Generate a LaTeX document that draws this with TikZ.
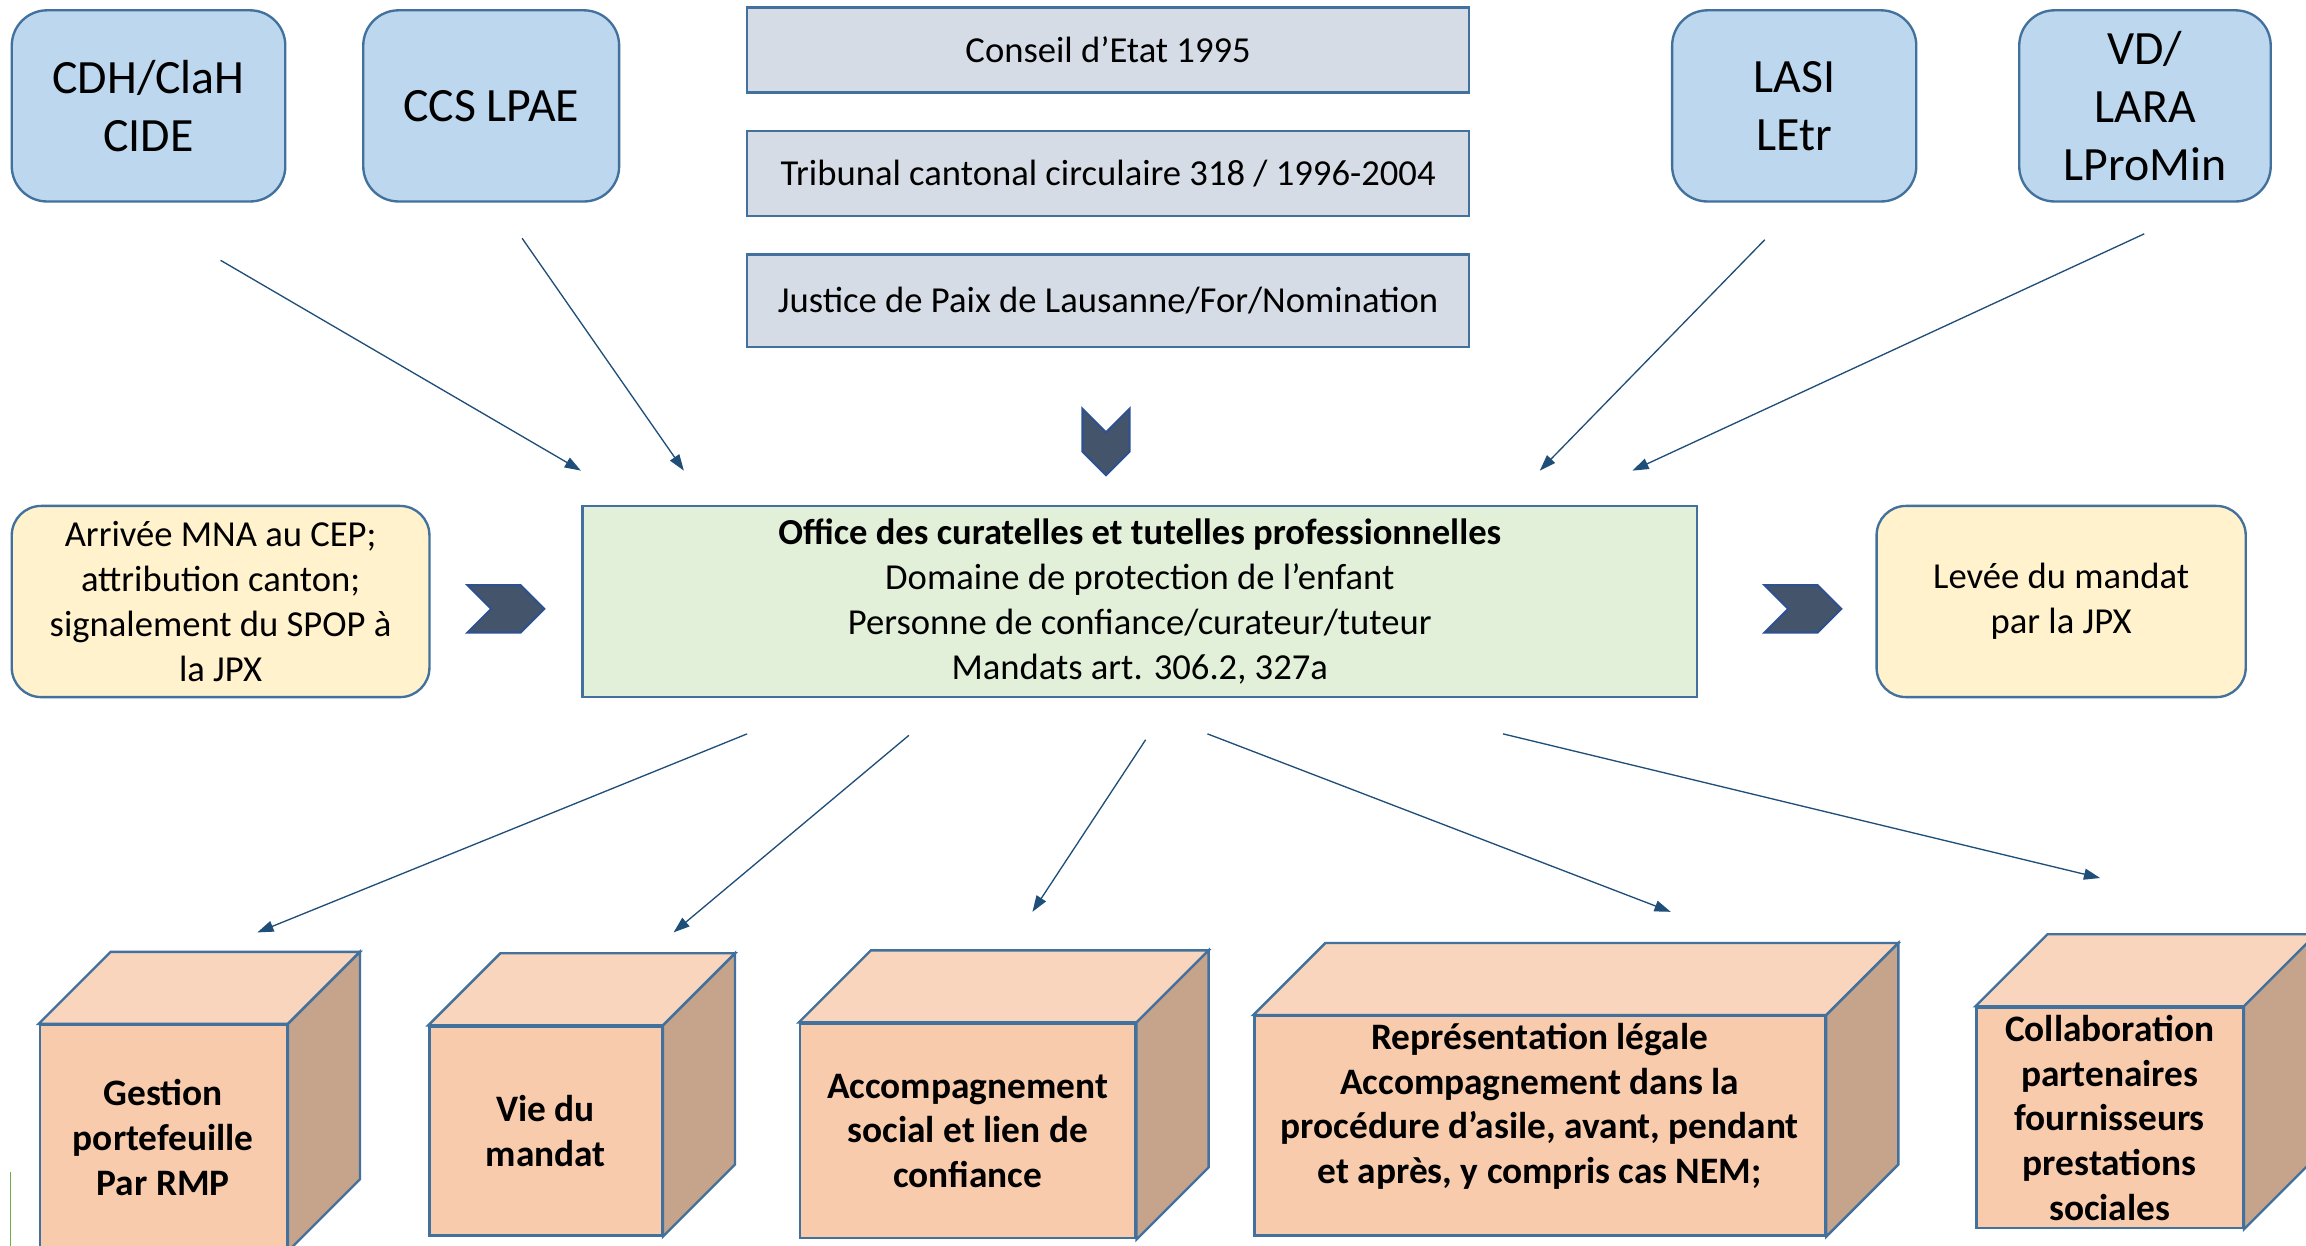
\documentclass[tikz,border=0pt]{standalone}
\usepackage{fontspec}
\setmainfont{Carlito}
\usetikzlibrary{arrows.meta,calc}
\definecolor{bord}{HTML}{41719C}
\definecolor{bluef}{HTML}{BDD7EE}
\definecolor{grayf}{HTML}{D6DCE5}
\definecolor{yelf}{HTML}{FFF2CC}
\definecolor{greenf}{HTML}{E2F0D9}
\definecolor{peach}{HTML}{F8CBAD}
\definecolor{peachtop}{HTML}{F8D5BC}
\definecolor{peachside}{HTML}{C6A38B}
\definecolor{arrowc}{HTML}{1F4E79}
\definecolor{chevf}{HTML}{44546A}
\definecolor{chevb}{HTML}{2F528F}
\definecolor{artef}{HTML}{70AD47}
\tikzset{
  base/.style={draw=bord, line width=1.6pt, inner sep=0pt, align=center,
    font=\fontsize{24.9}{30.4}\selectfont},
  bluebox/.style={base, fill=bluef, rounded corners=24pt,
    font=\fontsize{32.5}{39.3}\selectfont},
  graybox/.style={base, fill=grayf},
  yelbox/.style={base, fill=yelf, rounded corners=20pt},
  greenbox/.style={base, fill=greenf},
  cubefront/.style={base, fill=peach, font=\fontsize{25.4}{30.4}\selectfont\bfseries},
  cubetop/.style={draw=bord, line width=1.6pt, fill=peachtop, line join=miter},
  cubeside/.style={draw=bord, line width=1.6pt, fill=peachside, line join=miter},
  conn/.style={draw=arrowc, line width=0.9pt, -{Triangle[length=11pt,width=7.5pt]}},
  chev/.style={draw=chevb, line width=1.5pt, fill=chevf, line join=miter},
}
\newcommand{\mycubefaces}[1]{%
  \path[cubetop] (#1.north west) -- ++(49,-49) -- ($(#1.north east)+(49,-49)$) -- (#1.north east) -- cycle;
  \path[cubeside] (#1.north east) -- ++(49,-49) -- ($(#1.south east)+(49,-49)$) -- (#1.south east) -- cycle;
}
\begin{document}
\begin{tikzpicture}[x=1pt,y=-1pt]
\clip (0,0) rectangle (1568,846.6);
\fill[white] (0,0) rectangle (1568,846.6);

% top row
\node[bluebox, minimum width=186pt, minimum height=130pt] (cdh) at (101,72) {CDH/ClaH\\CIDE};
\node[bluebox, minimum width=174pt, minimum height=130pt] (ccs) at (334,72) {CCS LPAE};
\node[bluebox, minimum width=166pt, minimum height=130pt] (lasi) at (1220,72) {LASI\\LEtr};
\node[bluebox, minimum width=171pt, minimum height=130pt] (vd) at (1458.5,72) {VD/\\LARA\\LProMin};

\node[graybox, minimum width=491pt, minimum height=58pt] (ce) at (753.5,34) {Conseil d’Etat 1995};
\node[graybox, minimum width=491pt, minimum height=58pt] (tc) at (753.5,118) {Tribunal cantonal circulaire 318 / 1996-2004};
\node[graybox, minimum width=491pt, minimum height=63pt] (jp) at (753.5,204.5) {Justice de Paix de Lausanne/For/Nomination};

% down chevron
\path[chev] (736,278) -- (752,294) -- (768,278) -- (768,307) -- (752,323) -- (736,307) -- cycle;

% middle row
\node[yelbox, minimum width=284pt, minimum height=130pt] (arr) at (150,409) {Arrivée MNA au CEP;\\attribution canton;\\signalement du SPOP à\\la JPX};
\node[greenbox, minimum width=758pt, minimum height=130pt] (off) at (775,409) {\textbf{Office des curatelles et tutelles professionnelles}\\Domaine de protection de l’enfant\\Personne de confiance/curateur/tuteur\\Mandats art. 306.2, 327a};
\node[yelbox, minimum width=251pt, minimum height=130pt] (lev) at (1401.5,409) {Levée du mandat\\par la JPX};

\path[chev] (318,398) -- (354,398) -- (370,414) -- (354,430) -- (318,430) -- (334,414) -- cycle;
\path[chev] (1200,398) -- (1236,398) -- (1252,414) -- (1236,430) -- (1200,430) -- (1216,414) -- cycle;

% cubes
\node[cubefront, minimum width=168pt, minimum height=153pt] (c1) at (111,773.5) {Gestion\\portefeuille\\Par RMP};
\node[cubefront, minimum width=158pt, minimum height=142pt] (c2) at (371,769) {Vie du\\mandat};
\node[cubefront, minimum width=228pt, minimum height=146pt] (c3) at (658,769) {Accompagnement\\social et lien de\\confiance};
\node[cubefront, minimum width=388pt, minimum height=149pt] (c4) at (1047,765.5) {Représentation légale\\Accompagnement dans la\\procédure d’asile, avant, pendant\\et après, y compris cas NEM;\\\mbox{}};
\node[cubefront, minimum width=181pt, minimum height=150pt] (c5) at (1434.5,760) {Collaboration\\partenaires\\fournisseurs\\prestations\\sociales};
\mycubefaces{c1}
\mycubefaces{c2}
\mycubefaces{c3}
\mycubefaces{c4}
\mycubefaces{c5}

% connector end points
\coordinate (s1) at (150,177);  \coordinate (e1) at (395,320);
\coordinate (s2) at (355,162);  \coordinate (e2) at (465,320);
\coordinate (s3) at (1200,163); \coordinate (e3) at (1047,320);
\coordinate (s4) at (1458,159); \coordinate (e4) at (1110,320);
\draw[conn] (s1) -- (e1);
\draw[conn] (s2) -- (e2);
\draw[conn] (s3) -- (e3);
\draw[conn] (s4) -- (e4);

\coordinate (b1s) at (508,499);  \coordinate (b1e) at (175,634);
\coordinate (b2s) at (618,500);  \coordinate (b2e) at (458,634);
\coordinate (b3s) at (779,503);  \coordinate (b3e) at (702,620);
\coordinate (b4s) at (821,499);  \coordinate (b4e) at (1136,620);
\coordinate (b5s) at (1022,499); \coordinate (b5e) at (1428,597);
\draw[conn] (b1s) -- (b1e);
\draw[conn] (b2s) -- (b2e);
\draw[conn] (b3s) -- (b3e);
\draw[conn] (b4s) -- (b4e);
\draw[conn] (b5s) -- (b5e);

% thin green mark at lower left
\coordinate (g1) at (7,797); \coordinate (g2) at (7,847);
\draw[artef, line width=0.8pt] (g1) -- (g2);
\end{tikzpicture}
\end{document}
